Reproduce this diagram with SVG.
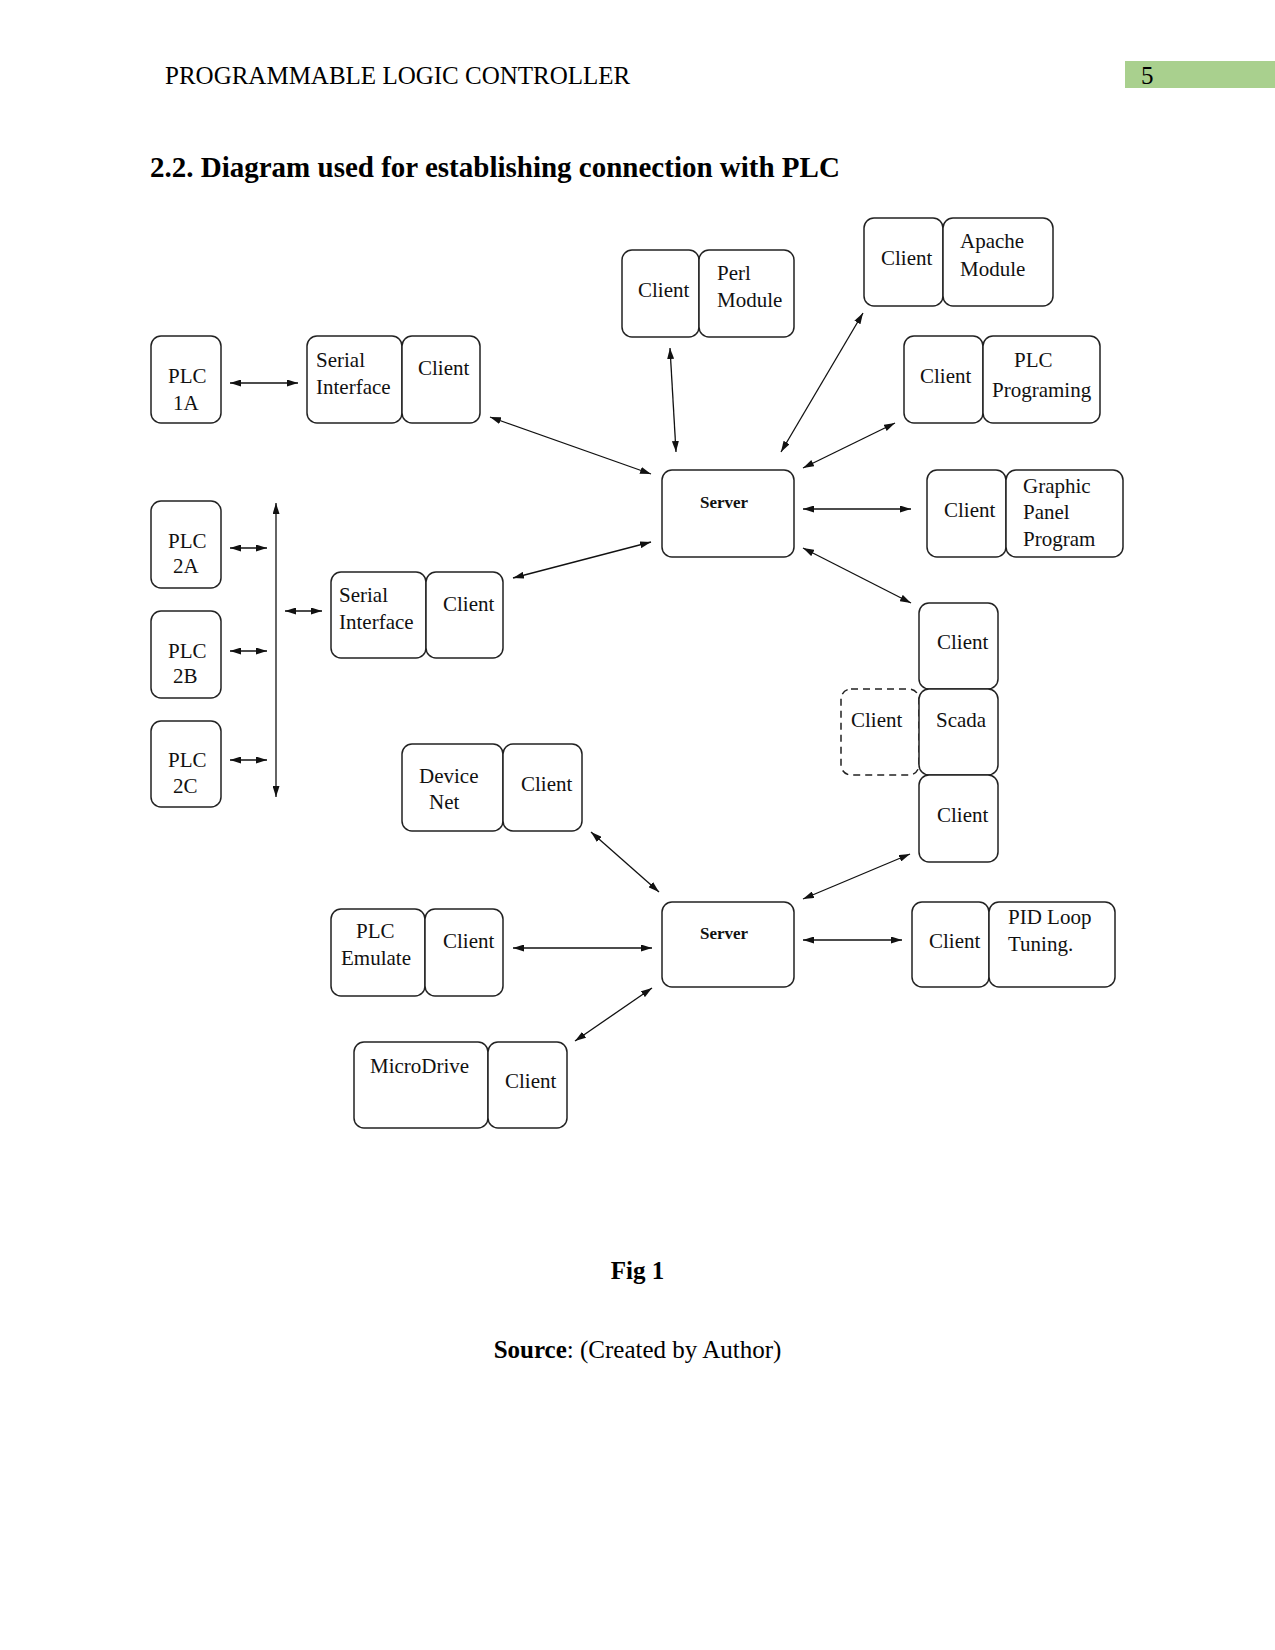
<svg xmlns="http://www.w3.org/2000/svg" width="1275" height="1650" viewBox="0 0 1275 1650">
<defs>
<marker id="ah" viewBox="0 0 11 7" refX="11" refY="3.5" markerWidth="11" markerHeight="7" markerUnits="userSpaceOnUse" orient="auto-start-reverse">
<path d="M0,0 L11,3.5 L0,7 z" fill="#111"/>
</marker>
<style>
.page{font-family:"Liberation Serif","Times New Roman",serif;fill:#000}
.b{fill:#fff;stroke:#222;stroke-width:1.5}
.d{fill:#fff;stroke:#222;stroke-width:1.5;stroke-dasharray:7,5}
.t{font-family:"Liberation Serif","Times New Roman",serif;font-size:21px;fill:#111}
.s{font-family:"Liberation Serif","Times New Roman",serif;font-size:17px;font-weight:bold;fill:#111}
.c line{stroke:#111;stroke-width:1.3;marker-start:url(#ah);marker-end:url(#ah)}
</style>
</defs>
<rect width="1275" height="1650" fill="#fff"/>
<text class="page" x="165" y="84" font-size="25">PROGRAMMABLE LOGIC CONTROLLER</text>
<rect x="1125" y="61" width="150" height="27" fill="#a9d08e"/>
<text class="page" x="1141" y="84" font-size="25">5</text>
<text class="page" x="150" y="177" font-size="29" font-weight="bold">2.2. Diagram used for establishing connection with PLC</text>
<text class="page" x="637.5" y="1279" font-size="25" font-weight="bold" text-anchor="middle">Fig 1</text>
<text class="page" x="637.5" y="1358" font-size="25" text-anchor="middle"><tspan font-weight="bold">Source</tspan>: (Created by Author)</text>

<g id="connectors" class="c">
<line x1="230" y1="383" x2="298" y2="383"/>
<line x1="490" y1="417" x2="651" y2="474"/>
<line x1="670" y1="348" x2="676" y2="452"/>
<line x1="863" y1="313" x2="781" y2="452"/>
<line x1="895" y1="423" x2="803" y2="468"/>
<line x1="803" y1="509" x2="911" y2="509"/>
<line x1="803" y1="548" x2="911" y2="603"/>
<line x1="651" y1="542" x2="513" y2="578"/>
<line x1="230" y1="548" x2="267" y2="548"/>
<line x1="230" y1="651" x2="267" y2="651"/>
<line x1="230" y1="760" x2="267" y2="760"/>
<line x1="276" y1="503" x2="276" y2="797"/>
<line x1="285" y1="611" x2="322" y2="611"/>
<line x1="591" y1="832" x2="659" y2="892"/>
<line x1="910" y1="854" x2="803" y2="899"/>
<line x1="513" y1="948" x2="652" y2="948"/>
<line x1="803" y1="940" x2="902" y2="940"/>
<line x1="575" y1="1041" x2="652" y2="988"/>
</g>

<g id="plc1a"><rect class="b" x="151" y="336" width="70" height="87" rx="10"/><text class="t" x="168" y="383">PLC</text><text class="t" x="173" y="410">1A</text></g>
<g id="serial1"><rect class="b" x="307" y="336" width="95" height="87" rx="10"/><text class="t" x="316" y="367">Serial</text><text class="t" x="316" y="394">Interface</text></g>
<g id="client-serial1"><rect class="b" x="402" y="336" width="78" height="87" rx="10"/><text class="t" x="418" y="375">Client</text></g>

<g id="client-perl"><rect class="b" x="622" y="250" width="77" height="87" rx="10"/><text class="t" x="638" y="297">Client</text></g>
<g id="perl"><rect class="b" x="699" y="250" width="95" height="87" rx="10"/><text class="t" x="717" y="280">Perl</text><text class="t" x="717" y="307">Module</text></g>

<g id="client-apache"><rect class="b" x="864" y="218" width="79" height="88" rx="10"/><text class="t" x="881" y="265">Client</text></g>
<g id="apache"><rect class="b" x="943" y="218" width="110" height="88" rx="10"/><text class="t" x="960" y="248">Apache</text><text class="t" x="960" y="276">Module</text></g>

<g id="client-plcprog"><rect class="b" x="904" y="336" width="79" height="87" rx="10"/><text class="t" x="920" y="383">Client</text></g>
<g id="plcprog"><rect class="b" x="983" y="336" width="117" height="87" rx="10"/><text class="t" x="1014" y="367">PLC</text><text class="t" x="992" y="397">Programing</text></g>

<g id="server1"><rect class="b" x="662" y="470" width="132" height="87" rx="10"/><text class="s" x="700" y="508">Server</text></g>

<g id="client-gpp"><rect class="b" x="927" y="470" width="79" height="87" rx="10"/><text class="t" x="944" y="517">Client</text></g>
<g id="gpp"><rect class="b" x="1006" y="470" width="117" height="87" rx="10"/><text class="t" x="1023" y="493">Graphic</text><text class="t" x="1023" y="519">Panel</text><text class="t" x="1023" y="546">Program</text></g>

<g id="client-scada-top"><rect class="b" x="919" y="603" width="79" height="86" rx="10"/><text class="t" x="937" y="649">Client</text></g>
<g id="client-scada-dashed"><rect class="d" x="841" y="689" width="78" height="86" rx="10"/><text class="t" x="851" y="727">Client</text></g>
<g id="scada"><rect class="b" x="919" y="689" width="79" height="86" rx="10"/><text class="t" x="936" y="727">Scada</text></g>
<g id="client-scada-bottom"><rect class="b" x="919" y="775" width="79" height="87" rx="10"/><text class="t" x="937" y="822">Client</text></g>

<g id="plc2a"><rect class="b" x="151" y="501" width="70" height="87" rx="10"/><text class="t" x="168" y="548">PLC</text><text class="t" x="173" y="573">2A</text></g>
<g id="plc2b"><rect class="b" x="151" y="611" width="70" height="87" rx="10"/><text class="t" x="168" y="658">PLC</text><text class="t" x="173" y="683">2B</text></g>
<g id="plc2c"><rect class="b" x="151" y="721" width="70" height="86" rx="10"/><text class="t" x="168" y="767">PLC</text><text class="t" x="173" y="793">2C</text></g>

<g id="serial2"><rect class="b" x="331" y="572" width="95" height="86" rx="10"/><text class="t" x="339" y="602">Serial</text><text class="t" x="339" y="629">Interface</text></g>
<g id="client-serial2"><rect class="b" x="426" y="572" width="77" height="86" rx="10"/><text class="t" x="443" y="611">Client</text></g>

<g id="devicenet"><rect class="b" x="402" y="744" width="101" height="87" rx="10"/><text class="t" x="419" y="783">Device</text><text class="t" x="429" y="809">Net</text></g>
<g id="client-devicenet"><rect class="b" x="503" y="744" width="79" height="87" rx="10"/><text class="t" x="521" y="791">Client</text></g>

<g id="server2"><rect class="b" x="662" y="902" width="132" height="85" rx="10"/><text class="s" x="700" y="939">Server</text></g>

<g id="plcemulate"><rect class="b" x="331" y="909" width="94" height="87" rx="10"/><text class="t" x="356" y="938">PLC</text><text class="t" x="341" y="965">Emulate</text></g>
<g id="client-plcemulate"><rect class="b" x="425" y="909" width="78" height="87" rx="10"/><text class="t" x="443" y="948">Client</text></g>

<g id="client-pid"><rect class="b" x="912" y="902" width="77" height="85" rx="10"/><text class="t" x="929" y="948">Client</text></g>
<g id="pid"><rect class="b" x="989" y="902" width="126" height="85" rx="10"/><text class="t" x="1008" y="924">PID Loop</text><text class="t" x="1008" y="951">Tuning.</text></g>

<g id="microdrive"><rect class="b" x="354" y="1042" width="134" height="86" rx="10"/><text class="t" x="370" y="1073">MicroDrive</text></g>
<g id="client-microdrive"><rect class="b" x="488" y="1042" width="79" height="86" rx="10"/><text class="t" x="505" y="1088">Client</text></g>
</svg>
